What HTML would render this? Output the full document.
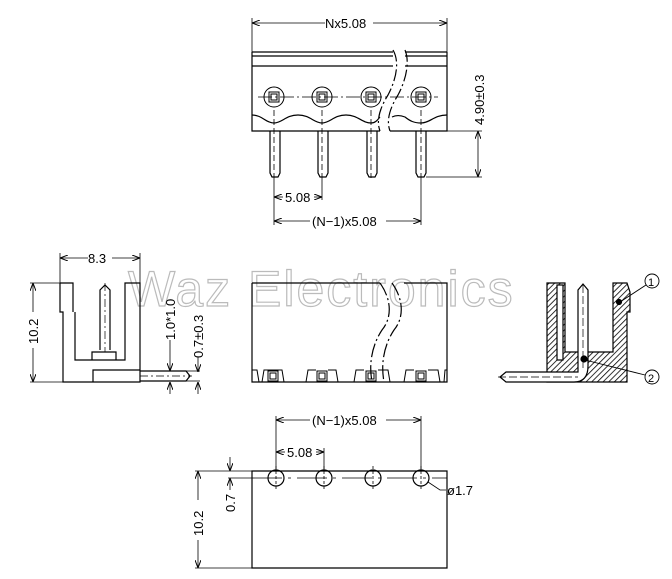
<!DOCTYPE html>
<html><head><meta charset="utf-8"><style>
html,body{margin:0;padding:0;background:#fff}
svg{display:block}
text{font-family:"Liberation Sans",sans-serif;font-size:13px;fill:#000}
</style></head><body>
<svg width="672" height="579" viewBox="0 0 672 579" xmlns="http://www.w3.org/2000/svg">
<defs>
<marker id="a" markerWidth="8" markerHeight="6" refX="8" refY="3" orient="auto-start-reverse" markerUnits="userSpaceOnUse"><path d="M0,0 L8,3 L0,6" fill="none" stroke="#000" stroke-width="1"/></marker>
<pattern id="h" width="4" height="4" patternUnits="userSpaceOnUse" patternTransform="rotate(45)"><rect width="4" height="4" fill="#fff"/><line x1="0" y1="0" x2="0" y2="4" stroke="#000" stroke-width="1.6"/></pattern>
</defs>
<g stroke="#000" stroke-width="1.2" fill="none">
<!-- TOP VIEW -->
<line x1="252" y1="18" x2="252" y2="52" stroke-width="0.8"/>
<line x1="447" y1="18" x2="447" y2="52" stroke-width="0.8"/>
<line x1="252" y1="23" x2="325" y2="23" stroke-width="0.8" marker-start="url(#a)"/>
<line x1="373" y1="23" x2="447" y2="23" stroke-width="0.8" marker-end="url(#a)"/>
<path d="M252,52 H393 M405,52 H447 M252,56 H393 M405,56 H447 M252,66 H393 M405,66 H447 M252,52 V131 H380 M390,131 H447 V52"/>
<path d="M252,115 C262,115 266,123 274,123 C282,123 286,115 298,115 C310,115 314,123 322,123 C330,123 334,115 346,115 C358,115 362,123 371,123 C376,123 378,119 380,117 M392,117 C396,115 400,115 405,117 C410,121 414,123 421,123 C430,123 434,115 447,115"/>
<path d="M393,50 C400,62 396,80 388,95 C380,108 376,120 380,131 M405,50 C410,62 406,80 398,95 C390,108 386,120 390,131" stroke-dasharray="12,3,2,3"/>
<g stroke-width="1">
<circle cx="274" cy="97" r="10"/><rect x="269" y="92" width="10" height="10"/><rect x="271" y="94" width="6" height="6"/>
<circle cx="322" cy="97" r="10"/><rect x="317" y="92" width="10" height="10"/><rect x="319" y="94" width="6" height="6"/>
<circle cx="371" cy="97" r="10"/><rect x="366" y="92" width="10" height="10"/><rect x="368" y="94" width="6" height="6"/>
<circle cx="421" cy="97" r="10"/><rect x="416" y="92" width="10" height="10"/><rect x="418" y="94" width="6" height="6"/>
</g>
<line x1="258" y1="97" x2="438" y2="97" stroke-width="0.8" stroke-dasharray="14,3,2,3"/>
<g>
<path d="M270,131 V173 L272,177 H278 L280,173 V131"/>
<path d="M318,131 V173 L320,177 H326 L328,173 V131"/>
<path d="M367,131 V173 L369,177 H375 L377,173 V131"/>
<path d="M416,131 V173 L418,177 H424 L426,173 V131"/>
</g>
<g stroke-width="0.8" stroke-dasharray="6,3">
<line x1="274" y1="110" x2="274" y2="178"/><line x1="322" y1="110" x2="322" y2="178"/><line x1="371" y1="110" x2="371" y2="178"/><line x1="421" y1="110" x2="421" y2="178"/>
</g>
<g stroke-width="0.8">
<line x1="274" y1="178" x2="274" y2="225"/><line x1="322" y1="178" x2="322" y2="200"/><line x1="421" y1="178" x2="421" y2="225"/>
<line x1="447" y1="131" x2="482" y2="131"/><line x1="426" y1="177" x2="482" y2="177"/>
<line x1="478" y1="131" x2="478" y2="177" marker-start="url(#a)" marker-end="url(#a)"/>
<line x1="274" y1="197" x2="283" y2="197" marker-start="url(#a)"/><line x1="314" y1="197" x2="322" y2="197" marker-end="url(#a)"/>
<line x1="274" y1="221" x2="310" y2="221" marker-start="url(#a)"/><line x1="386" y1="221" x2="421" y2="221" marker-end="url(#a)"/>
</g>
</g>
<text x="325" y="28">Nx5.08</text>
<text x="285" y="202">5.08</text>
<text x="312" y="226">(N−1)x5.08</text>
<text transform="translate(484,125) rotate(-90)">4.90±0.3</text>

<!-- WATERMARK -->
<text x="128" y="306" style="font-size:50px;fill:none;stroke:#bbbbbb;stroke-width:1.2;letter-spacing:2px">Waz Electronics</text>

<!-- LEFT SIDE VIEW -->
<g stroke="#000" stroke-width="1.2" fill="none">
<line x1="60" y1="253" x2="60" y2="283" stroke-width="0.8"/><line x1="140" y1="253" x2="140" y2="283" stroke-width="0.8"/>
<line x1="60" y1="258" x2="88" y2="258" stroke-width="0.8" marker-start="url(#a)"/><line x1="112" y1="258" x2="140" y2="258" stroke-width="0.8" marker-end="url(#a)"/>
<path d="M60,283 H73 V312 M60,283 V312 H63 V382 H140 V370 M140,370 V283 H125 V360 H75 V312"/>
<path d="M93,382 V370 H140 M140,371 H186 L190,376 L186,381 H140"/>
<path d="M100,350 V290 L105,285 L110,290 V350 M92,360 V352 H116 V360"/>
<line x1="105" y1="283" x2="105" y2="352" stroke-width="0.7" stroke-dasharray="8,3,2,3"/>
<line x1="140" y1="376" x2="192" y2="376" stroke-width="0.7" stroke-dasharray="8,3,2,3"/>
<g stroke-width="0.8">
<line x1="30" y1="283" x2="63" y2="283"/><line x1="30" y1="382" x2="63" y2="382"/>
<line x1="33" y1="283" x2="33" y2="312" marker-start="url(#a)"/><line x1="33" y1="348" x2="33" y2="382" marker-end="url(#a)"/>
<line x1="170" y1="340" x2="170" y2="371" marker-end="url(#a)"/><line x1="170" y1="394" x2="170" y2="382" marker-end="url(#a)"/>
<line x1="198" y1="357" x2="198" y2="372" marker-end="url(#a)"/><line x1="198" y1="394" x2="198" y2="382" marker-end="url(#a)"/>
<line x1="186" y1="371" x2="200" y2="371"/><line x1="186" y1="381" x2="200" y2="381"/>
</g>
</g>
<text transform="translate(38,344) rotate(-90)">10.2</text>
<text x="88" y="263">8.3</text>
<text transform="translate(175,340) rotate(-90)">1.0*1.0</text>
<text transform="translate(203,358) rotate(-90)">0.7±0.3</text>

<!-- MIDDLE VIEW -->
<g stroke="#000" stroke-width="1.2" fill="none">
<path d="M252,283 H380 M404,283 H447 V382 H252 V283"/>
<path d="M380,283 C392,300 392,318 382,330 C374,342 368,360 372,382 M392,283 C404,300 404,318 394,330 C386,342 380,360 384,382" stroke-dasharray="14,3,2,3" stroke="#000"/>
<g stroke-width="1">
<path d="M252,370 H257 L259,382 M262,382 L264,370 H282 L284,382 M306,382 L308,370 H316 M328,370 H336 L338,382 M354,382 L356,370 H364 M378,370 H388 L390,382 M404,382 L406,370 H414 M428,370 H438 L440,382 M444,382 L445,370 H447"/>
<rect x="268" y="371" width="10" height="10"/><rect x="270" y="373" width="6" height="6"/>
<rect x="317" y="371" width="10" height="10"/><rect x="319" y="373" width="6" height="6"/>
<rect x="366" y="371" width="10" height="10"/><rect x="368" y="373" width="6" height="6"/>
<rect x="416" y="371" width="10" height="10"/><rect x="418" y="373" width="6" height="6"/>
</g>
</g>

<!-- RIGHT SECTION VIEW -->
<g stroke="#000" stroke-width="1.2">
<path d="M547,283 H565 V352 H613 V283 H627 L630,292 V312 L627,312 V382 H547 Z" fill="url(#h)"/>
<rect x="557" y="285" width="6" height="75" fill="#fff"/>
<path d="M578,372 V290 L583,284 L588,290 V366 Q588,382 574,382 H506 L500,377 L506,372 Z" fill="#fff"/>
<line x1="583" y1="285" x2="583" y2="368" stroke-width="0.7" stroke-dasharray="8,3" fill="none"/>
<line x1="498" y1="377" x2="578" y2="377" stroke-width="0.7" stroke-dasharray="8,3" fill="none"/>
<circle cx="584" cy="359" r="3" fill="#000"/>
<circle cx="619" cy="302" r="2.5" fill="#000"/>
<g fill="none" stroke-width="0.9">
<circle cx="652" cy="281" r="7"/><circle cx="652" cy="377" r="7"/>
<line x1="646" y1="285" x2="620" y2="302"/><line x1="645" y1="375" x2="585" y2="360"/>
</g>
</g>
<text x="648" y="286" style="font-size:11px">1</text>
<text x="648" y="382" style="font-size:11px">2</text>

<!-- BOTTOM VIEW -->
<g stroke="#000" stroke-width="1.2" fill="none">
<path d="M252,471 H447 V568 H252 Z"/>
<line x1="230" y1="471" x2="252" y2="471" stroke-width="0.8"/>
<line x1="252" y1="478" x2="447" y2="478" stroke-width="0.8" stroke-dasharray="30,6,3,6"/>
<circle cx="276" cy="478" r="8"/><circle cx="324" cy="478" r="8"/><circle cx="373" cy="478" r="8"/><circle cx="421" cy="478" r="8"/>
<g stroke-width="0.8" stroke-dasharray="3,2">
<line x1="276" y1="466" x2="276" y2="490"/><line x1="324" y1="466" x2="324" y2="490"/><line x1="373" y1="466" x2="373" y2="490"/><line x1="421" y1="466" x2="421" y2="490"/>
</g>
<g stroke-width="0.8">
<line x1="276" y1="416" x2="276" y2="470"/><line x1="421" y1="416" x2="421" y2="470"/><line x1="324" y1="448" x2="324" y2="470"/>
<line x1="276" y1="420" x2="310" y2="420" marker-start="url(#a)"/><line x1="386" y1="420" x2="421" y2="420" marker-end="url(#a)"/>
<line x1="276" y1="452" x2="285" y2="452" marker-start="url(#a)"/><line x1="316" y1="452" x2="324" y2="452" marker-end="url(#a)"/>
<line x1="195" y1="471" x2="230" y2="471"/><line x1="195" y1="568" x2="252" y2="568"/><line x1="228" y1="478" x2="252" y2="478"/>
<line x1="198" y1="471" x2="198" y2="500" marker-start="url(#a)"/><line x1="198" y1="540" x2="198" y2="568" marker-end="url(#a)"/>
<line x1="230" y1="457" x2="230" y2="471" marker-end="url(#a)"/><line x1="230" y1="490" x2="230" y2="478" marker-end="url(#a)"/>
<path d="M428,482 L440,490 H446"/>
</g>
</g>
<text x="312" y="425">(N−1)x5.08</text>
<text x="287" y="457">5.08</text>
<text transform="translate(203,536) rotate(-90)">10.2</text>
<text transform="translate(235,512) rotate(-90)">0.7</text>
<text x="447" y="495">ø1.7</text>
</svg>
</body></html>
